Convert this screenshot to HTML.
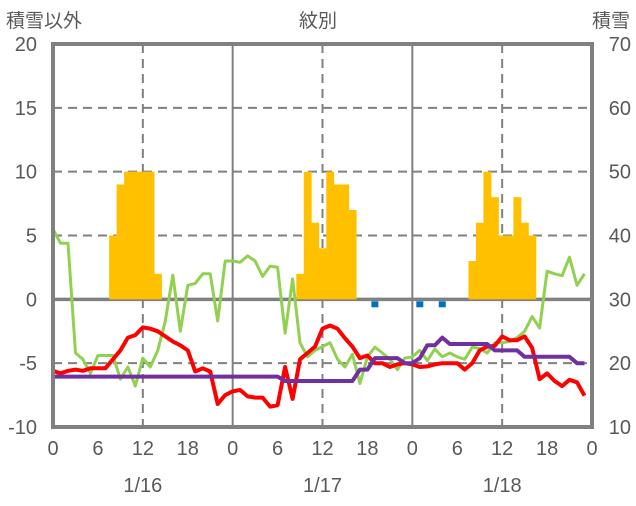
<!DOCTYPE html>
<html><head><meta charset="utf-8">
<style>
body{margin:0;background:#fff;}
svg text{font-family:"Liberation Sans","Noto Sans CJK JP",sans-serif;fill:#595959;}
</style></head>
<body>
<svg id="chart" width="636" height="501" viewBox="0 0 636 501" xmlns="http://www.w3.org/2000/svg">
<g id="grid"></g>
<g id="bars"></g>
<g id="lines"></g>
<g id="frame"></g>
<g id="labels"></g>
<text x="6" y="27" font-size="19">積雪以外</text>
<text x="318" y="27" font-size="19" text-anchor="middle">紋別</text>
<text x="630" y="27" font-size="19" text-anchor="end">積雪</text>
</svg>
<script>
const leftTicks=[20,15,10,5,0,-5,-10];
const rightTicks=[70,60,50,40,30,20,10];
const hourTicks=[0,6,12,18,24,30,36,42,48,54,60,66,72];
const hourTickLabels=["0","6","12","18","0","6","12","18","0","6","12","18","0"];
const dates=["1/16","1/17","1/18"];
const snowHours=[8,9,10,11,12,13,14,33,34,35,36,37,38,39,40,56,57,58,59,60,61,62,63,64];
const snowValues=[40,48,50,50,50,50,34,34,50,42,38,50,48,48,44,36,42,50,46,40,40,46,42,40];
const green=[5.5,4.4,4.4,-4.2,-4.7,-5.8,-4.4,-4.4,-4.4,-6.25,-5.3,-6.8,-4.6,-5.3,-4.0,-1.7,1.9,-2.5,1.1,1.25,2.0,2.0,-1.7,3.0,
3.0,2.9,3.4,3.0,1.8,2.6,2.5,-2.65,1.6,-3.4,-4.5,-4.0,-3.7,-3.4,-4.7,-5.3,-4.3,-6.6,-4.5,-3.75,-4.2,-4.7,-5.5,-4.6,
-4.5,-4.0,-4.8,-3.9,-4.5,-4.2,-4.5,-4.7,-3.75,-3.85,-4.2,-3.4,-3.4,-3.3,-3.0,-2.5,-1.35,-2.25,2.2,2.0,1.85,3.3,1.1,2.0];
const red=[-5.6,-5.8,-5.6,-5.5,-5.6,-5.4,-5.4,-5.4,-4.7,-4.0,-3.0,-2.8,-2.2,-2.3,-2.5,-2.9,-3.3,-3.6,-4.0,-5.65,-5.4,-5.65,-8.2,-7.5,
-7.2,-7.1,-7.6,-7.7,-7.7,-8.4,-8.3,-5.3,-7.8,-4.7,-4.2,-3.7,-2.3,-2.05,-2.3,-3.05,-3.7,-4.6,-4.4,-5.0,-5.0,-5.3,-5.1,-5.0,
-5.1,-5.3,-5.25,-5.1,-5.0,-5.0,-5.0,-5.5,-5.0,-4.0,-3.7,-3.65,-2.9,-3.2,-3.2,-2.9,-3.8,-6.25,-5.8,-6.4,-6.8,-6.3,-6.5,-7.55];
const purple=[-6.05,-6.05,-6.05,-6.05,-6.05,-6.05,-6.05,-6.05,-6.05,-6.05,-6.05,-6.05,-6.05,-6.05,-6.05,-6.05,-6.05,-6.05,-6.05,-6.05,-6.05,-6.05,-6.05,-6.05,
-6.05,-6.05,-6.05,-6.05,-6.05,-6.05,-6.05,-6.4,-6.4,-6.4,-6.4,-6.4,-6.4,-6.4,-6.4,-6.4,-6.4,-5.5,-5.5,-4.6,-4.6,-4.6,-4.6,-5.0,
-5.0,-4.6,-3.6,-3.6,-3.0,-3.5,-3.5,-3.5,-3.5,-3.5,-3.5,-4.0,-4.0,-4.0,-4.0,-4.5,-4.5,-4.5,-4.5,-4.5,-4.5,-4.5,-5.0,-5.0];
const blueHours=[43,49,52];
const blueValues=[-0.35,-0.35,-0.35];

const NS="http://www.w3.org/2000/svg";
const X0=53,X1=592,YT=44,YB=427;
function xs(h){return X0+h*(X1-X0)/72;}
function yl(v){return YB-(v+10)*(YB-YT)/30;}
function yr(v){return YB-(v-10)*(YB-YT)/60;}
function mk(tag,attrs,parent){const e=document.createElementNS(NS,tag);for(const k in attrs)e.setAttribute(k,attrs[k]);parent.appendChild(e);return e;}
const grid=document.getElementById('grid'),bars=document.getElementById('bars'),lines=document.getElementById('lines'),frame=document.getElementById('frame'),labels=document.getElementById('labels');

leftTicks.forEach(v=>{
  if(v===20||v===-10||v===0)return;
  const l=mk('line',{x1:X0,x2:X1,y1:yl(v),y2:yl(v),stroke:'#808080','stroke-width':2,'stroke-dasharray':'9,6'},grid);
  
  
});
[12,36,60].forEach(h=>{
  const l=mk('line',{x1:xs(h),x2:xs(h),y1:YT,y2:YB,stroke:'#808080','stroke-width':2,'stroke-dasharray':'9,6'},grid);
  
  
});
[24,48].forEach(h=>{
  const l=mk('line',{x1:xs(h),x2:xs(h),y1:YT,y2:YB,stroke:'#808080','stroke-width':2},grid);
  
  
});

const bw=(X1-X0)/72;
snowHours.forEach((h,i)=>{
  const r=mk('rect',{x:xs(h)-bw/2,y:yr(snowValues[i]),width:bw+0.4,height:yr(30)-yr(snowValues[i]),fill:'#FFC000'},bars);
  
  
});
const z=mk('line',{x1:X0,x2:X1,y1:yl(0),y2:yl(0),stroke:'#808080','stroke-width':3.5},grid);



function poly(arr,color,w,name){
  const p=arr.map((v,i)=>xs(i).toFixed(1)+','+yl(v).toFixed(1)).join(' ');
  const e=mk('polyline',{points:p,fill:'none',stroke:color,'stroke-width':w,'stroke-linejoin':'round'},lines);
  
  
}
poly(green,'#92D050',3,'green-series');
poly(red,'#FF0000',4,'red-series');
poly(purple,'#7030A0',4,'purple-series');
blueHours.forEach((h,i)=>{
  const r=mk('rect',{x:xs(h)-3.5,y:yl(blueValues[i])-2.5,width:7,height:6,fill:'#0070C0'},lines);
  
  
});

const f=mk('path',{d:`M${X0},${YB} L${X0},${YT} L${X1},${YT} L${X1},${YB} Z`,fill:'none',stroke:'#808080','stroke-width':4},frame);



leftTicks.forEach(v=>{
  const t=mk('text',{x:37,y:yl(v)+7,'font-size':20,'text-anchor':'end'},labels);t.textContent=v;
  
  
});
rightTicks.forEach(v=>{
  const t=mk('text',{x:631,y:yr(v)+7,'font-size':20,'text-anchor':'end'},labels);t.textContent=v;
  
  
});
hourTicks.forEach((h,i)=>{
  const t=mk('text',{x:xs(h),y:455,'font-size':20,'text-anchor':'middle'},labels);t.textContent=hourTickLabels[i];
  
  
});
dates.forEach((d,i)=>{
  const t=mk('text',{x:xs(12+24*i),y:492,'font-size':20,'text-anchor':'middle'},labels);t.textContent=d;
  
  
});
</script>
</body></html>
